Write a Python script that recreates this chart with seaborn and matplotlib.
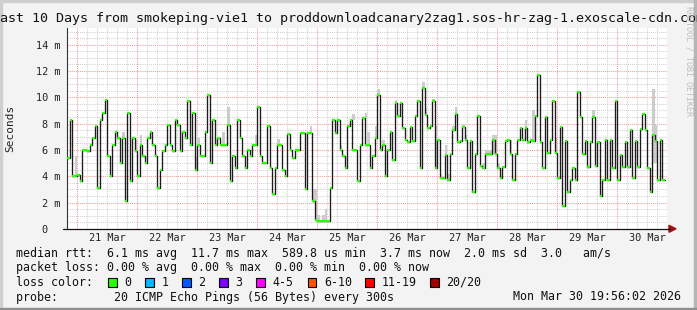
import numpy as np
import pandas as pd
import matplotlib
matplotlib.use("Agg")
import matplotlib.pyplot as plt
import matplotlib.dates as mdates
from matplotlib.patches import Rectangle, Polygon
from matplotlib.lines import Line2D
import seaborn as sns

# ---------------- data (median RTT in ms, one value per hour) ----------------
first_hour = "2026-03-20 20:00"
rtt_mar20 = [5.4, 8.3, 4.0, 4.0]
rtt_mar21 = [4.1, 3.6, 6.0, 6.0, 5.9, 6.4, 6.9, 7.8, 3.1, 8.3, 8.8, 9.8,
             5.5, 4.0, 6.4, 7.4, 6.9, 5.0, 6.9, 2.1, 8.8, 3.6, 6.9, 5.9]
rtt_mar22 = [4.0, 6.4, 5.5, 5.0, 6.9, 7.4, 6.4, 5.5, 3.1, 4.5, 5.9, 6.4,
             7.9, 6.4, 5.9, 8.3, 7.9, 5.9, 7.4, 6.9, 9.7, 6.4, 8.8, 4.5]
rtt_mar23 = [6.4, 5.5, 5.5, 7.4, 10.2, 5.0, 8.3, 6.4, 6.9, 6.4, 6.4, 6.4,
             7.9, 3.6, 5.5, 4.6, 8.3, 6.9, 5.5, 4.6, 6.0, 5.5, 6.4, 6.4]
rtt_mar24 = [9.3, 5.5, 5.0, 5.0, 7.8, 4.6, 2.65, 4.6, 6.4, 6.4, 4.5, 4.0,
             7.2, 6.0, 5.4, 6.0, 6.0, 7.3, 7.3, 3.0, 7.3, 7.3, 2.1, 0.7]
rtt_mar25 = [0.62, 0.6, 0.62, 0.6, 0.62, 3.1, 8.3, 7.3, 8.3, 6.0, 5.5, 4.6,
             7.8, 8.3, 6.0, 6.0, 3.6, 6.4, 8.4, 6.4, 6.4, 4.6, 5.5, 6.9]
rtt_mar26 = [10.2, 6.0, 6.4, 4.0, 6.0, 7.4, 5.2, 9.6, 8.6, 9.6, 7.7, 6.75,
             6.6, 7.75, 6.7, 8.6, 9.7, 4.6, 10.7, 8.65, 7.7, 7.8, 9.7, 4.65]
rtt_mar27 = [6.75, 3.85, 3.85, 5.6, 3.7, 5.7, 7.5, 8.75, 6.6, 6.7, 7.75, 6.75,
             4.6, 6.7, 2.8, 5.7, 8.6, 4.8, 4.65, 5.7, 5.7, 5.7, 6.75, 5.7]
rtt_mar28 = [4.65, 3.85, 4.7, 6.7, 6.75, 5.7, 3.7, 5.7, 6.75, 7.7, 6.75, 7.7,
             6.6, 6.75, 6.7, 8.6, 11.7, 6.6, 4.65, 8.5, 5.8, 6.75, 9.7, 5.8]
rtt_mar29 = [3.85, 7.75, 1.73, 6.7, 2.8, 3.7, 4.6, 3.7, 10.4, 8.5, 5.7, 6.7,
             4.7, 6.6, 8.5, 4.8, 6.6, 2.5, 3.7, 6.75, 3.7, 6.75, 4.65, 9.7]
rtt_mar30 = [3.7, 5.6, 4.7, 6.6, 4.7, 7.5, 3.85, 6.7, 4.7, 7.6, 8.75, 7.5,
             4.6, 2.8, 7.1, 6.7, 3.7, 6.75, 3.7]

# smoke (spread of the individual pings), hour index from first_hour
smoke_hour = [3, 22, 27, 29, 51, 52, 62, 64, 75, 84, 97, 98, 99, 100, 102, 103,
              109, 114, 119, 120, 123, 124, 126, 131, 142, 143, 146, 147, 149,
              151, 152, 154, 155, 158, 159, 166, 167, 168, 169, 170, 171, 172,
              177, 183, 186, 195, 210, 234, 235]
smoke_low = [4.0, 6.9, 5.9, 6.4, 4.5, 6.4, 6.4, 7.9, 6.4, 6.4, 7.3, 2.1, 0.7,
             0.62, 0.62, 0.6, 6.0, 8.3, 8.4, 6.4, 6.9, 10.2, 6.4, 9.6, 10.7,
             8.65, 9.7, 4.65, 3.85, 5.6, 3.7, 7.5, 8.75, 7.75, 6.75, 4.65, 5.7,
             5.7, 5.7, 5.7, 5.7, 4.65, 5.7, 7.7, 6.7, 5.8, 8.5, 5.0, 5.0]
smoke_high = [5.5, 7.4, 6.75, 7.1, 5.5, 6.9, 7.4, 9.3, 7.1, 6.8, 7.8, 3.0, 3.0,
              1.05, 1.05, 1.5, 6.4, 8.7, 8.8, 7.4, 7.8, 10.6, 6.75, 9.8, 11.2,
              9.2, 9.9, 7.8, 4.2, 6.4, 4.2, 7.8, 9.3, 7.9, 7.1, 5.0, 6.0, 6.0,
              6.0, 7.1, 7.1, 5.0, 6.75, 8.3, 9.0, 7.0, 9.0, 10.6, 7.9]

day_labels = ["21 Mar", "22 Mar", "23 Mar", "24 Mar", "25 Mar",
              "26 Mar", "27 Mar", "28 Mar", "29 Mar", "30 Mar"]
y_ticks = [0, 2, 4, 6, 8, 10, 12, 14]
y_tick_labels = ["0  ", "2 m", "4 m", "6 m", "8 m", "10 m", "12 m", "14 m"]

loss_labels = ["0", "1", "2", "3", "4-5", "6-10", "11-19", "20/20"]
loss_colors = ["#26ff00", "#00b8ff", "#0059ff", "#7e00ff", "#ff00ff",
               "#ff5500", "#ff0000", "#a10000"]

title = ("Last 10 Days from smokeping-vie1 to "
         "proddownloadcanary2zag1.sos-hr-zag-1.exoscale-cdn.com")
stats_rtt = ("median rtt:  6.1 ms avg  11.7 ms max  589.8 us min  "
             "3.7 ms now  2.0 ms sd  3.0   am/s")
stats_loss = "packet loss: 0.00 % avg  0.00 % max  0.00 % min  0.00 % now"
probe_text = "probe:        20 ICMP Echo Pings (56 Bytes) every 300s"
stamp_text = "Mon Mar 30 19:56:02 2026"
side_text = "RRDTOOL / TOBI OETIKER"

# ---------------- figure ----------------
sns.set_theme(style="white")
plt.rcParams["font.family"] = ["DejaVu Sans Mono"]

W, H = 697, 310
fig = plt.figure(figsize=(W / 100, H / 100), dpi=100)
fig.patch.set_facecolor("#f3f3f3")


def fx(x):
    return x / W


def fy(y):
    return 1 - y / H


L, R, T, B = 67.0, 667.0, 28.3, 228.8
ax = fig.add_axes([fx(L), fy(B), (R - L) / W, (B - T) / H])
ax.set_facecolor("white")

median_rtt_ms = (rtt_mar20 + rtt_mar21 + rtt_mar22 + rtt_mar23 + rtt_mar24 +
                 rtt_mar25 + rtt_mar26 + rtt_mar27 + rtt_mar28 + rtt_mar29 +
                 rtt_mar30)
t0 = pd.Timestamp(first_hour)
times = pd.date_range(t0, periods=len(median_rtt_ms), freq="h")
one_hour = pd.Timedelta(hours=1)
x_start = t0 - pd.Timedelta(minutes=4)
x_end = x_start + pd.Timedelta(days=10)

# grid
for yv in np.arange(0.5, 15.26, 0.5):
    major = abs(yv % 2) < 1e-9
    ax.axhline(yv, color="#f29a9a" if major else "#d2d2d2", lw=0.75,
               ls=(0, (1, 1)), zorder=0.5)
for k in range(0, 241, 4):
    tv = t0 + pd.Timedelta(hours=k)
    major = tv.hour == 0
    ax.axvline(mdates.date2num(tv), color="#f29a9a" if major else "#d2d2d2",
               lw=0.75, ls=(0, (1, 1)), zorder=0.5)

# smoke
sh = np.array(smoke_hour)
lo = np.array(smoke_low)
hi = np.array(smoke_high)
ax.bar(mdates.date2num(times[sh]), hi - lo, bottom=lo, width=1 / 24,
       align="edge", color="#cccccc", lw=0, zorder=2)

# median line
df = pd.DataFrame({"time": list(times) + [times[-1] + one_hour],
                   "rtt": median_rtt_ms + [median_rtt_ms[-1]]})
sns.lineplot(data=df, x="time", y="rtt", drawstyle="steps-post",
             color="#1c1c1c", lw=0.95, ax=ax, estimator=None, zorder=3)
ax.hlines(median_rtt_ms, mdates.date2num(times),
          mdates.date2num(times + one_hour), colors="#26ff00", lw=1.6,
          zorder=4)

ax.set_xlim(mdates.date2num(x_start), mdates.date2num(x_end))
ax.set_ylim(0, 15.25)
ax.set_xlabel("")
ax.set_ylabel("")

noons = [mdates.date2num(pd.Timestamp("2026-03-21 12:00") + pd.Timedelta(days=i))
         for i in range(len(day_labels))]
ax.set_xticks(noons, day_labels)
ax.set_yticks(y_ticks, y_tick_labels)
ax.tick_params(axis="both", length=0, labelsize=7.4, colors="#222222")
ax.tick_params(axis="x", pad=3)
ax.tick_params(axis="y", pad=5)

for s in ["top", "right", "bottom"]:
    ax.spines[s].set_visible(False)
ax.spines["left"].set_color("#333333")
ax.spines["left"].set_linewidth(0.8)

# x axis line with arrow
fig.add_artist(Line2D([fx(63), fx(670)], [fy(B), fy(B)], color="#111111",
                      lw=0.9, transform=fig.transFigure))
fig.add_artist(Polygon([[fx(669), fy(B - 3.5)], [fx(669), fy(B + 3.5)],
                        [fx(676), fy(B)]], closed=True, color="#a01010",
                       transform=fig.transFigure))

# texts
fig.text(fx(348.5), fy(18.5), title, ha="center", va="center", fontsize=9.6,
         color="#111111")
fig.text(fx(10), fy(128), "Seconds", rotation=90, ha="center", va="center",
         fontsize=8.0, color="#222222")
fig.text(fx(688.5), fy(6), side_text, rotation=270, ha="center", va="top",
         fontsize=6.0, color="#bdbdbd")

fig.text(fx(16), fy(254), stats_rtt, ha="left", va="center", fontsize=8.4,
         color="#111111")
fig.text(fx(16), fy(268), stats_loss, ha="left", va="center", fontsize=8.4,
         color="#111111")
fig.text(fx(16), fy(282), "loss color:", ha="left", va="center", fontsize=8.4,
         color="#111111")
box_x = [108, 145, 182, 219, 256, 307.5, 365, 430]
for bx, lab, col in zip(box_x, loss_labels, loss_colors):
    fig.add_artist(Rectangle((fx(bx), fy(286.5)), 8.5 / W, 8.5 / H,
                             facecolor=col, edgecolor="black", lw=0.8,
                             transform=fig.transFigure))
    fig.text(fx(bx + 16.5), fy(282), lab, ha="left", va="center",
             fontsize=8.4, color="#111111")
fig.text(fx(16), fy(297), probe_text, ha="left", va="center", fontsize=8.4,
         color="#111111")
fig.text(fx(681), fy(297), stamp_text, ha="right", va="center", fontsize=8.4,
         color="#111111")

# outer frame
fig.add_artist(Rectangle((0, 0), 2 / W, 1, color="#cfcfcf",
                         transform=fig.transFigure))
fig.add_artist(Rectangle((0, 1 - 2 / H), 1, 2 / H, color="#cfcfcf",
                         transform=fig.transFigure))
fig.add_artist(Rectangle((1 - 3 / W, 0), 3 / W, 1, color="#b5b5b5",
                         transform=fig.transFigure))
fig.add_artist(Rectangle((0, 0), 1, 2.5 / H, color="#8f8f8f",
                         transform=fig.transFigure))

fig.savefig("out.png", dpi=100, facecolor=fig.get_facecolor())
